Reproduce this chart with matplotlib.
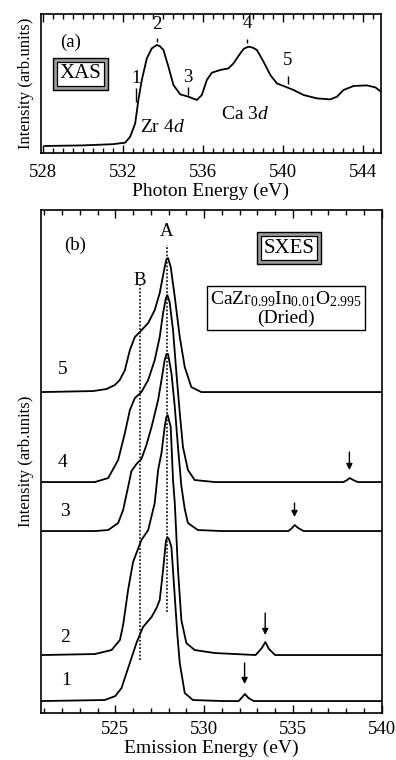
import matplotlib
matplotlib.use("Agg")
import matplotlib.pyplot as plt
from matplotlib.ticker import MultipleLocator

plt.rcParams['font.family'] = ['Liberation Serif', 'DejaVu Serif']
plt.rcParams['mathtext.fontset'] = 'custom'
plt.rcParams['mathtext.rm'] = 'Liberation Serif'
plt.rcParams['mathtext.it'] = 'Liberation Serif:italic'

# (a) XAS spectrum
xas_energy = [528.12, 530.03, 531.5, 532.12, 532.37, 532.62, 532.78, 532.95, 533.2, 533.45, 533.7,
              533.85, 534.03, 534.28, 534.53, 534.87, 535.28, 535.7, 535.95, 536.2, 536.45, 536.87,
              537.28, 537.53, 537.87, 538.05, 538.28, 538.5, 538.7, 539.03, 539.37, 539.7, 540.03, 540.53,
              541.03, 541.7, 542.37, 542.7, 543.03, 543.53, 544.2, 544.62, 544.9]
xas_intensity = [0.067, 0.073, 0.085, 0.10, 0.16, 0.293, 0.527, 0.727, 0.943, 1.043, 1.077,
                 1.065, 1.027, 0.86, 0.677, 0.583, 0.56, 0.527, 0.577, 0.727, 0.8, 0.827,
                 0.843, 0.893, 0.993, 1.04, 1.06, 1.05, 1.027, 0.91, 0.777, 0.693, 0.667, 0.627,
                 0.577, 0.543, 0.533, 0.56, 0.627, 0.667, 0.673, 0.653, 0.61]
xas_marks = ['1', '2', '3', '4', '5']
xas_mark_energy = [532.65, 533.7, 535.25, 538.23, 540.25]
xas_mark_lo = [0.51, 1.11, 0.577, 1.093, 0.687]
xas_mark_hi = [0.643, 1.143, 0.653, 1.137, 0.767]
xas_mark_label_y = [0.74, 1.28, 0.75, 1.29, 0.92]

# (b) SXES spectra, excitation 1..5 (height above own baseline)
sxes_labels = ['1', '2', '3', '4', '5']
sxes_offset = [0.12, 0.58, 1.82, 2.31, 3.21]
sxes_e1 = [520.9, 524.4, 525.0, 525.35, 525.63, 526.19, 526.56, 527.04, 527.32, 527.5,
           527.69, 527.85, 527.93, 528.02, 528.16, 528.35, 528.5, 528.63, 528.91, 529.37, 531.0, 531.95,
           532.15, 532.3, 532.5, 532.8, 536.0, 540.0]
sxes_h1 = [0.0, 0.01, 0.05, 0.13, 0.28, 0.58, 0.74, 0.84, 0.93, 1.01,
           1.31, 1.6, 1.64, 1.62, 1.54, 1.04, 0.65, 0.38, 0.08, 0.01, 0.0, 0.0,
           0.04, 0.07, 0.03, 0.0, 0.0, 0.0]
sxes_e2 = [520.9, 523.85, 524.79, 525.26, 525.44, 525.72, 526.0, 526.19, 526.47, 526.85,
           527.22, 527.41, 527.6, 527.78, 527.87, 527.95, 528.12, 528.25, 528.35, 528.53, 528.72,
           529.0, 529.47, 530.6, 532.9, 533.25, 533.45, 533.65, 534.0, 536.0, 540.0]
sxes_h2 = [0.0, 0.01, 0.05, 0.15, 0.3, 0.65, 0.93, 1.02, 1.15, 1.25,
           1.52, 1.85, 2.02, 2.28, 2.38, 2.4, 2.28, 1.75, 1.52, 0.85, 0.35,
           0.12, 0.05, 0.02, 0.0, 0.07, 0.13, 0.06, 0.0, 0.0, 0.0]
sxes_e3 = [520.9, 523.85, 524.6, 525.16, 525.44, 525.72, 525.91, 526.19, 526.47, 526.75,
           527.04, 527.41, 527.6, 527.78, 527.88, 527.97, 528.16, 528.35, 528.53, 528.72, 528.91,
           529.09, 529.65, 531.0, 534.75, 534.95, 535.1, 535.3, 535.6, 537.0, 540.0]
sxes_h3 = [0.0, 0.0, 0.01, 0.08, 0.21, 0.44, 0.6, 0.67, 0.72, 0.86,
           1.04, 1.31, 1.51, 1.71, 1.77, 1.77, 1.58, 1.24, 0.84, 0.45, 0.22,
           0.08, 0.01, 0.0, 0.0, 0.03, 0.06, 0.03, 0.0, 0.0, 0.0]
sxes_e4 = [520.9, 523.85, 524.6, 525.16, 525.54, 525.82, 526.1, 526.47, 526.85, 527.22,
           527.5, 527.69, 527.85, 527.93, 528.06, 528.25, 528.44, 528.63, 528.81, 529.09, 529.47,
           530.6, 537.85, 538.05, 538.2, 538.4, 538.65, 540.0]
sxes_h4 = [0.0, 0.0, 0.04, 0.22, 0.49, 0.72, 0.84, 0.9, 1.02, 1.22,
           1.45, 1.69, 1.84, 1.87, 1.8, 1.52, 1.09, 0.69, 0.35, 0.12, 0.02,
           0.0, 0.0, 0.02, 0.04, 0.02, 0.0, 0.0]
sxes_e5 = [520.9, 523.75, 524.5, 524.97, 525.25, 525.54, 525.82, 526.1, 526.38, 526.85,
           527.22, 527.5, 527.78, 527.88, 527.97, 528.12, 528.35, 528.63, 528.91, 529.28, 529.84,
           532.0, 540.0]
sxes_h5 = [0.0, 0.01, 0.03, 0.07, 0.12, 0.22, 0.42, 0.55, 0.6, 0.69,
           0.82, 0.99, 1.25, 1.33, 1.34, 1.25, 0.95, 0.55, 0.25, 0.05, 0.0,
           0.0, 0.0]
sxes_label_x = [522.26, 522.17, 522.17, 522.05, 522.05]
sxes_label_y = [0.33, 0.76, 2.02, 2.51, 3.44]
# elastic peak arrows (energy, arrow top, arrow tip)
arrow_energy = [532.28, 533.44, 535.09, 538.18]
arrow_top = [0.50, 1.00, 2.10, 2.61]
arrow_tip = [0.29, 0.78, 1.96, 2.43]
line_A = 527.9
line_B = 526.38

fig = plt.figure(figsize=(3.96, 7.6), dpi=100)
ax1 = fig.add_axes([0.1028, 0.7991, 0.8593, 0.1825])
ax2 = fig.add_axes([0.1028, 0.0618, 0.8611, 0.6618])

for ax in (ax1, ax2):
    for s in ax.spines.values():
        s.set_linewidth(1.2)
    ax.set_yticks([])
    ax.tick_params(axis='x', which='both', direction='in', top=True, labelsize=13.5, width=1)
    ax.tick_params(axis='x', which='major', length=6)
    ax.tick_params(axis='x', which='minor', length=3.5)
ax1.tick_params(axis='x', which='both', pad=8.5)
ax2.tick_params(axis='x', which='both', pad=5.5)

def double_box(ax, x, y, s):
    ax.text(x, y, s, fontsize=15, ha='center', va='center', zorder=5,
            bbox=dict(boxstyle='square,pad=0.32', fc='#9a9a9a', ec='black', lw=1))
    ax.text(x, y, s, fontsize=15, ha='center', va='center', zorder=6,
            bbox=dict(boxstyle='square,pad=0.12', fc='white', ec='black', lw=0.9))

# ---- (a)
ax1.plot(xas_energy, xas_intensity, color='black', lw=1.3)
ax1.set_xlim(527.9, 544.9)
ax1.set_ylim(0, 1.387)
ax1.xaxis.set_major_locator(MultipleLocator(4))
ax1.xaxis.set_minor_locator(MultipleLocator(0.5))
ax1.vlines(xas_mark_energy, xas_mark_lo, xas_mark_hi, color='black', lw=1)
for lab, xe, ly in zip(xas_marks, xas_mark_energy, xas_mark_label_y):
    ax1.text(xe, ly, lab, fontsize=13.5, ha='center', va='center')
ax1.text(529.37, 1.107, '(a)', fontsize=13.5, ha='center', va='center')
double_box(ax1, 529.87, 0.787, 'XAS')
ax1.text(534.0, 0.247, 'Zr 4$d$', fontsize=14, ha='center', va='center')
ax1.text(538.1, 0.377, 'Ca 3$d$', fontsize=14, ha='center', va='center')
ax1.set_xlabel('Photon Energy (eV)', fontsize=14, labelpad=1)
ax1.set_ylabel('Intensity (arb.units)', fontsize=12, labelpad=5)

# ---- (b)
curves_e = [sxes_e1, sxes_e2, sxes_e3, sxes_e4, sxes_e5]
curves_h = [sxes_h1, sxes_h2, sxes_h3, sxes_h4, sxes_h5]
for e, h, off in zip(curves_e, curves_h, sxes_offset):
    ax2.plot(e, [v + off for v in h], color='black', lw=1.3)
for lab, lx, ly in zip(sxes_labels, sxes_label_x, sxes_label_y):
    ax2.text(lx, ly, lab, fontsize=14, ha='center', va='center')
for xe, y0, y1 in zip(arrow_energy, arrow_top, arrow_tip):
    ax2.annotate('', xy=(xe, y1), xytext=(xe, y0),
                 arrowprops=dict(arrowstyle='-|>', color='black', lw=1, mutation_scale=9,
                                 shrinkA=0, shrinkB=0))
ax2.plot([line_A, line_A], [1.01, 4.68], color='black', lw=1.1, ls=(0, (1.2, 1.2)))
ax2.plot([line_B, line_B], [0.53, 4.28], color='black', lw=1.1, ls=(0, (1.2, 1.2)))
ax2.text(line_A, 4.815, 'A', fontsize=13.5, ha='center', va='center')
ax2.text(line_B, 4.33, 'B', fontsize=13.5, ha='center', va='center')
ax2.text(522.73, 4.68, '(b)', fontsize=13.5, ha='center', va='center')
double_box(ax2, 534.8, 4.65, 'SXES')
ax2.text(534.62, 4.05, 'CaZr$_{0.99}$In$_{0.01}$O$_{2.995}$\n(Dried)', fontsize=14,
         ha='center', va='center', linespacing=1.05, multialignment='center',
         bbox=dict(boxstyle='square,pad=0.15', fc='white', ec='black', lw=1))
ax2.set_xlim(520.8, 540.0)
ax2.set_ylim(0, 5.03)
ax2.xaxis.set_major_locator(MultipleLocator(5))
ax2.xaxis.set_minor_locator(MultipleLocator(1))
ax2.set_xlabel('Emission Energy (eV)', fontsize=14, labelpad=1.5)
ax2.set_ylabel('Intensity (arb.units)', fontsize=12, labelpad=5)

fig.savefig('out.png', dpi=100)
